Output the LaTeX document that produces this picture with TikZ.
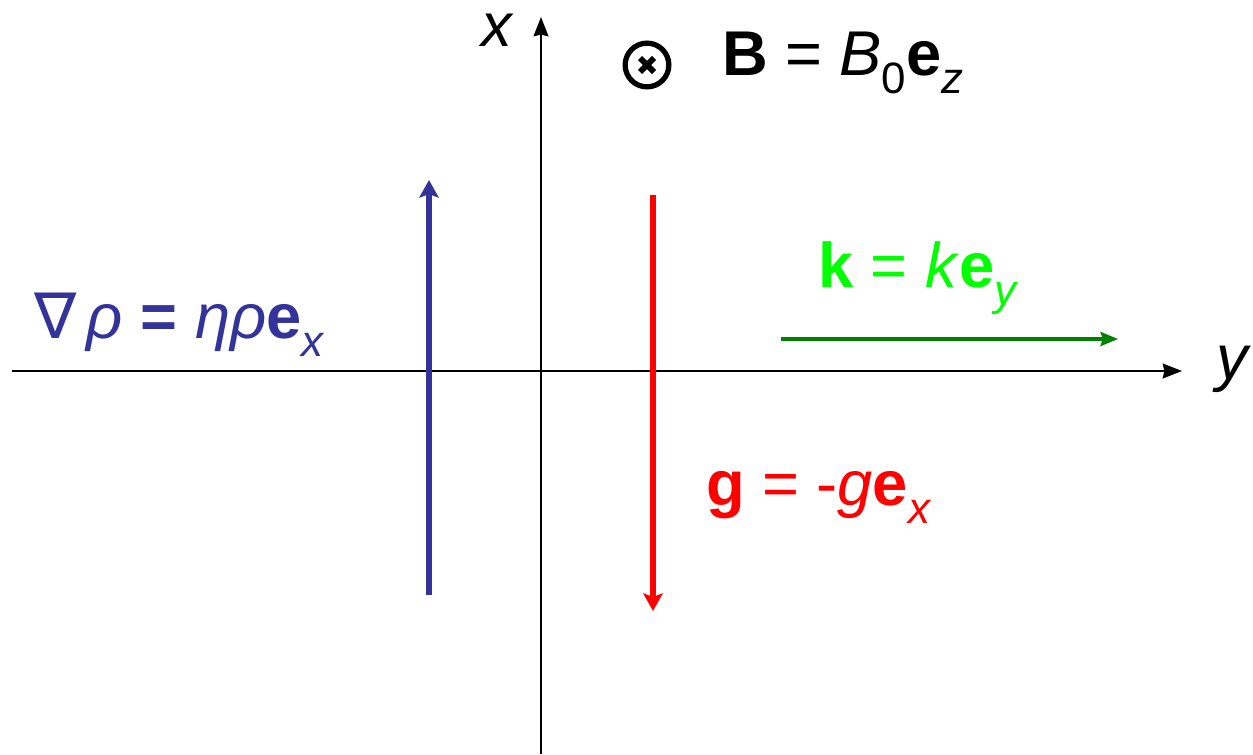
\documentclass[tikz,border=0pt]{standalone}
\usepackage{fontspec}
\setmainfont{Liberation Sans}
\newfontfamily\symfont{DejaVu Sans}
\usetikzlibrary{arrows.meta, positioning, calc}

\definecolor{gradblue}{RGB}{51,51,153}
\definecolor{wavegreen}{RGB}{0,255,0}
\definecolor{arrgreen}{RGB}{0,128,0}

\newcommand{\lowsub}[1]{\raisebox{-0.3em}{\fontsize{25}{28}\selectfont #1}}

\begin{document}
\begin{tikzpicture}[x=0.02cm, y=-0.02cm,
  every node/.style={inner sep=0pt, outer sep=0pt},
  lbl/.style={anchor=base west, font=\fontsize{36}{40}\selectfont},
  axis/.style={line width=1.1pt, -{Stealth[length=11pt, width=8.5pt, inset=1pt]}},
  vec/.style={line width=3.2pt, -{Stealth[length=10pt, width=11pt, inset=2pt]}}]
  \useasboundingbox (0,0) rectangle (1253,754);
  % --- eixos ---
  \coordinate (yneg) at (12,371);
  \coordinate (ypos) at (1182,371);
  \coordinate (xneg) at (541,754);
  \coordinate (xpos) at (541,17);
  \draw[axis] (yneg) -- (ypos);
  \draw[axis] (xneg) -- (xpos);
  \node[lbl, font=\fontsize{36}{40}\selectfont\itshape] (ylab) at (1216,379) {y};
  \node[lbl, font=\fontsize{35}{40}\selectfont\itshape, text height=0.52em, text depth=0pt] (xlab) at (481,46) {x};
  % --- campo B (saindo do plano) ---
  \node[circle, draw, line width=3pt, minimum size=0.98cm-3pt] (bfield) at (647,65) {};
  \draw[line width=3.4pt] ($(bfield.center)+(-7,-7)$) -- +(14,14)
    ($(bfield.center)+(7,-7)$) -- +(-14,14);
  \node[lbl] (blab) at (722,75) {\textbf{B} = \textit{B}\lowsub{0}\textbf{e}\lowsub{\itshape z}};
  % --- gradiente de densidade ---
  \coordinate (gradtail) at (429,595);
  \coordinate (gradtip) at (429,180);
  \draw[vec, gradblue] (gradtail) -- (gradtip);
  \node[lbl, gradblue] (gradlab) at (34,338)
    {{\symfont ∇}\,\textit{ρ} \textbf{=} \textit{ηρ}\textbf{e}\lowsub{\itshape x}};
  % --- gravidade ---
  \coordinate (gtail) at (653,195);
  \coordinate (gtip) at (653,611);
  \draw[vec, red] (gtail) -- (gtip);
  \node[lbl, red] (glab) at (706,505) {\textbf{g} = -\textit{g}\textbf{e}\lowsub{\itshape x}};
  % --- vetor de onda ---
  \coordinate (ktail) at (781,339);
  \coordinate (ktip) at (1118,339);
  \draw[line width=1.8pt, arrgreen, -{Stealth[length=10pt, width=8pt, inset=1.5pt]}] (ktail) -- (ktip);
  \node[lbl, wavegreen] (klab) at (818,287) {\textbf{k} = \textit{k}\textbf{e}\lowsub{\itshape y}};
\end{tikzpicture}
\end{document}
